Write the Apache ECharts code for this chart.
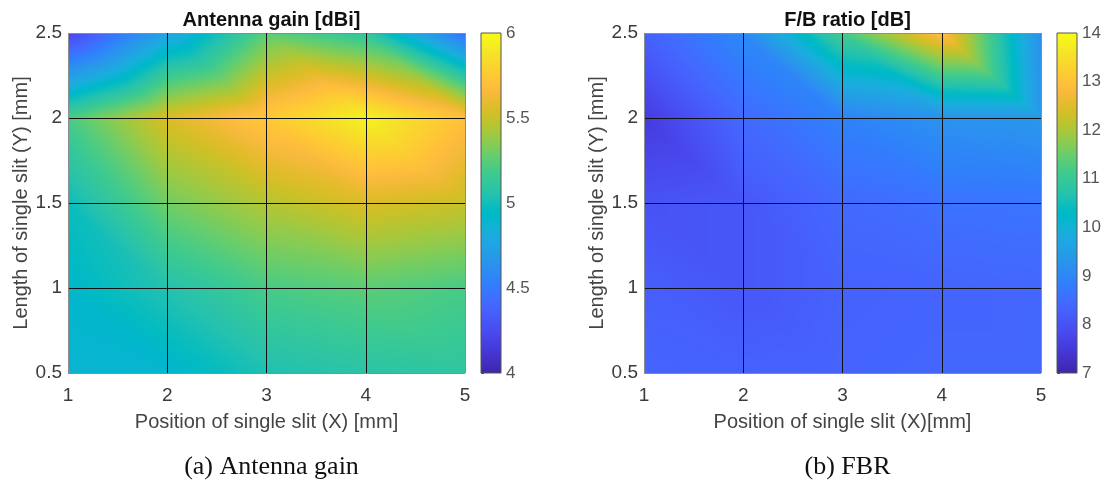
<!DOCTYPE html>
<html>
<head>
<meta charset="utf-8">
<script src="https://cdn.jsdelivr.net/npm/echarts@6/dist/echarts.min.js"></script>
<style>
  html, body { margin: 0; padding: 0; background: #ffffff; }
  #chart { width: 1107px; height: 485px; }
</style>
</head>
<body>
<div id="chart"></div>
<script>
// Sweep grid: slit position X and slit length Y (mm)
const xPositions = [1, 2, 3, 4, 5];
const yLengths = [0.5, 1, 1.5, 2, 2.5];

// Antenna gain (dBi); one row per slit length (bottom to top), one column per position
const gainRows = [
  [4.88, 4.90, 5.03, 5.08, 5.10],
  [4.92, 5.05, 5.20, 5.25, 5.20],
  [4.98, 5.30, 5.45, 5.55, 5.50],
  [5.20, 5.55, 5.75, 5.95, 5.70],
  [4.20, 4.75, 5.25, 5.10, 4.45]
];

// Front-to-back ratio (dB), same layout
const fbrRows = [
  [8.35, 8.30, 8.35, 8.40, 8.40],
  [8.25, 8.10, 8.30, 8.35, 8.40],
  [8.00, 8.10, 8.45, 8.60, 8.65],
  [7.55, 8.45, 8.90, 9.25, 9.35],
  [8.30, 9.05, 11.2, 13.0, 9.15]
];

// Colour scale limits and colourbar tick steps
const gainRange = [4, 6];
const gainStep = 0.5;
const fbrRange = [7, 14];
const fbrStep = 1;

const titles = ['Antenna gain [dBi]', 'F/B ratio [dB]'];
const xNames = ['Position of single slit (X) [mm]', 'Position of single slit (X)[mm]'];
const yName = 'Length of single slit (Y) [mm]';
const captions = ['(a) Antenna gain', '(b) FBR'];

// parula colormap, 64 entries
const parula = [
[0.2422,0.1504,0.6603],[0.2504,0.1650,0.7076],[0.2578,0.1818,0.7511],[0.2647,0.1978,0.7952],
[0.2706,0.2147,0.8364],[0.2751,0.2342,0.8710],[0.2783,0.2559,0.8991],[0.2803,0.2782,0.9221],
[0.2813,0.3006,0.9414],[0.2810,0.3228,0.9579],[0.2795,0.3447,0.9717],[0.2760,0.3667,0.9829],
[0.2699,0.3892,0.9906],[0.2602,0.4123,0.9952],[0.2440,0.4358,0.9988],[0.2206,0.4603,0.9973],
[0.1963,0.4847,0.9892],[0.1834,0.5074,0.9798],[0.1786,0.5289,0.9682],[0.1764,0.5499,0.9520],
[0.1687,0.5703,0.9359],[0.1540,0.5902,0.9218],[0.1460,0.6091,0.9079],[0.1380,0.6276,0.8973],
[0.1248,0.6459,0.8883],[0.1113,0.6635,0.8763],[0.0952,0.6798,0.8598],[0.0689,0.6948,0.8394],
[0.0297,0.7082,0.8163],[0.0036,0.7203,0.7917],[0.0067,0.7312,0.7660],[0.0433,0.7411,0.7394],
[0.0964,0.7500,0.7120],[0.1408,0.7584,0.6842],[0.1717,0.7670,0.6554],[0.1938,0.7758,0.6251],
[0.2161,0.7843,0.5923],[0.2470,0.7918,0.5567],[0.2906,0.7973,0.5188],[0.3406,0.8008,0.4789],
[0.3909,0.8029,0.4354],[0.4456,0.8024,0.3909],[0.5044,0.7993,0.3480],[0.5616,0.7942,0.3045],
[0.6174,0.7876,0.2612],[0.6720,0.7793,0.2227],[0.7242,0.7698,0.1910],[0.7738,0.7598,0.1646],
[0.8203,0.7498,0.1535],[0.8634,0.7406,0.1596],[0.9035,0.7330,0.1774],[0.9393,0.7288,0.2100],
[0.9728,0.7298,0.2394],[0.9956,0.7434,0.2371],[0.9970,0.7659,0.2199],[0.9952,0.7893,0.2028],
[0.9892,0.8136,0.1885],[0.9786,0.8386,0.1766],[0.9676,0.8639,0.1643],[0.9610,0.8890,0.1537],
[0.9597,0.9135,0.1423],[0.9628,0.9373,0.1265],[0.9691,0.9606,0.1064],[0.9769,0.9839,0.0805]
];

function colorAt(v, range) {
  let f = (v - range[0]) / (range[1] - range[0]);
  f = Math.max(0, Math.min(1, f)) * (parula.length - 1);
  const i = Math.min(parula.length - 2, Math.floor(f));
  const t = f - i;
  const a = parula[i], b = parula[i + 1];
  return [0, 1, 2].map(k => Math.round(255 * (a[k] + (b[k] - a[k]) * t)));
}

function cssColor(c) { return 'rgb(' + c[0] + ',' + c[1] + ',' + c[2] + ')'; }

// One item per grid cell: its corner coordinates and the four node values
function buildCells(rows) {
  const cells = [];
  for (let j = 0; j < yLengths.length - 1; j++) {
    for (let i = 0; i < xPositions.length - 1; i++) {
      cells.push([
        xPositions[i], yLengths[j], xPositions[i + 1], yLengths[j + 1],
        rows[j][i], rows[j][i + 1], rows[j + 1][i], rows[j + 1][i + 1]
      ]);
    }
  }
  return cells;
}

// Gouraud-style shading: each cell is split into two triangles along the
// diagonal from its upper-left to its lower-right corner.
function makeSurfaceRenderer(range) {
  return function (params, api) {
    const p0 = api.coord([api.value(0), api.value(1)]);
    const p1 = api.coord([api.value(2), api.value(3)]);
    const v00 = api.value(4), v10 = api.value(5), v01 = api.value(6), v11 = api.value(7);
    const x = Math.round(p0[0]), x2 = Math.round(p1[0]);
    const yTop = Math.round(p1[1]), yBot = Math.round(p0[1]);
    const w = x2 - x, h = yBot - yTop;
    const canvas = document.createElement('canvas');
    canvas.width = w; canvas.height = h;
    const ctx = canvas.getContext('2d');
    const img = ctx.createImageData(w, h);
    for (let py = 0; py < h; py++) {
      const v = 1 - (py + 0.5) / h;
      for (let px = 0; px < w; px++) {
        const u = (px + 0.5) / w;
        let val;
        if (u + v <= 1) {
          val = v00 + u * (v10 - v00) + v * (v01 - v00);
        } else {
          val = v11 + (1 - u) * (v01 - v11) + (1 - v) * (v10 - v11);
        }
        const c = colorAt(val, range);
        const o = (py * w + px) * 4;
        img.data[o] = c[0]; img.data[o + 1] = c[1]; img.data[o + 2] = c[2]; img.data[o + 3] = 255;
      }
    }
    ctx.putImageData(img, 0, 0);
    return {
      type: 'image',
      silent: true,
      style: { image: canvas, x: x, y: yTop, width: w, height: h }
    };
  };
}

function makeColorbarRenderer() {
  const stops = parula.map((c, i) => ({ offset: i / (parula.length - 1), color: cssColor(c.map(k => Math.round(k * 255))) }));
  return function (params, api) {
    const p0 = api.coord([api.value(0), api.value(1)]);
    const p1 = api.coord([api.value(2), api.value(3)]);
    return {
      type: 'rect',
      silent: true,
      shape: { x: p0[0], y: p1[1], width: p1[0] - p0[0], height: p0[1] - p1[1] },
      style: {
        fill: new echarts.graphic.LinearGradient(0, 1, 0, 0, stops),
        stroke: '#555555',
        lineWidth: 1
      }
    };
  };
}

const sansFont = 'Liberation Sans, Arial, sans-serif';
const labelColor = '#3a3a3a';
const frameColors = ['#8c8c8c', '#111111', '#111111', '#111111', '#8c8c8c'];

const panels = [
  { rows: gainRows, range: gainRange, step: gainStep, left: 68, cbLeft: 481 },
  { rows: fbrRows, range: fbrRange, step: fbrStep, left: 644, cbLeft: 1057 }
];
const plotTop = 33, plotHeight = 340, plotWidth = 397, cbWidth = 20;

const grid = [], xAxis = [], yAxis = [], series = [], title = [];

panels.forEach((p, k) => {
  const gi = grid.length;
  grid.push({ left: p.left, top: plotTop, width: plotWidth, height: plotHeight });
  grid.push({ left: p.cbLeft, top: plotTop, width: cbWidth, height: plotHeight });

  xAxis.push({
    gridIndex: gi, type: 'value', min: xPositions[0], max: xPositions[xPositions.length - 1], interval: 1,
    z: 10,
    name: xNames[k], nameLocation: 'middle', nameGap: 39,
    nameTextStyle: { fontFamily: sansFont, fontSize: 20, color: '#444444' },
    axisLine: { show: false },
    axisTick: { show: false },
    axisLabel: { fontFamily: sansFont, fontSize: 19, color: labelColor, margin: 13 },
    splitLine: { show: true, lineStyle: { color: frameColors, width: 1 } }
  });
  yAxis.push({
    gridIndex: gi, type: 'value', min: yLengths[0], max: yLengths[yLengths.length - 1], interval: 0.5,
    z: 10,
    name: yName, nameLocation: 'middle', nameGap: 37,
    nameTextStyle: { fontFamily: sansFont, fontSize: 20, color: '#444444' },
    axisLine: { show: false },
    axisTick: { show: false },
    axisLabel: { fontFamily: sansFont, fontSize: 19, color: labelColor, margin: 6 },
    splitLine: { show: true, lineStyle: { color: frameColors, width: 1 } }
  });

  // colourbar axes
  xAxis.push({ gridIndex: gi + 1, type: 'value', min: 0, max: 1, show: false });
  yAxis.push({
    gridIndex: gi + 1, type: 'value', position: 'right',
    min: p.range[0], max: p.range[1], interval: p.step,
    axisLine: { show: false },
    axisTick: { show: true, length: 3, lineStyle: { color: '#555555' } },
    axisLabel: { fontFamily: sansFont, fontSize: 17, color: '#555555', margin: 5 },
    splitLine: { show: false }
  });

  series.push({
    type: 'custom',
    xAxisIndex: xAxis.length - 2, yAxisIndex: yAxis.length - 2,
    renderItem: makeSurfaceRenderer(p.range),
    data: buildCells(p.rows),
    encode: { x: [0, 2], y: [1, 3] },
    clip: true,
    animation: false
  });
  series.push({
    type: 'custom',
    xAxisIndex: xAxis.length - 1, yAxisIndex: yAxis.length - 1,
    renderItem: makeColorbarRenderer(),
    data: [[0, p.range[0], 1, p.range[1]]],
    encode: { x: [0, 2], y: [1, 3] },
    animation: false
  });

  title.push({
    text: titles[k], left: p.left + plotWidth / 2, top: 5, textAlign: 'center',
    textStyle: { fontFamily: sansFont, fontSize: 20, fontWeight: 'bold', color: '#111111' }
  });
  title.push({
    text: captions[k], left: p.left + plotWidth / 2, top: 449, textAlign: 'center',
    textStyle: { fontFamily: 'Liberation Serif, Times New Roman, serif', fontSize: 26, fontWeight: 'normal', color: '#111111' }
  });
});

const chart = echarts.init(document.getElementById('chart'), null, { renderer: 'canvas' });
chart.setOption({
  backgroundColor: '#ffffff',
  animation: false,
  title: title,
  grid: grid,
  xAxis: xAxis,
  yAxis: yAxis,
  series: series
});
</script>
</body>
</html>
